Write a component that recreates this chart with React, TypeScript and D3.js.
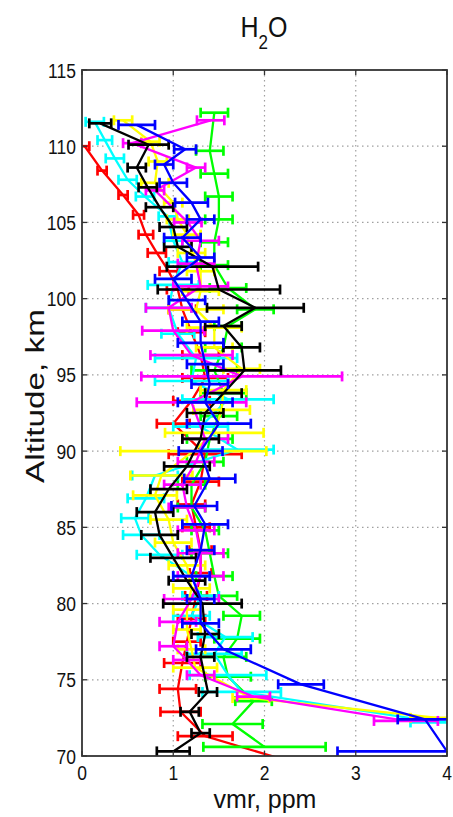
import React from 'react';
import * as d3 from 'd3';

const W = 453;
const H = 817;

const xTicks = [0, 1, 2, 3, 4];
const yTicks = [70, 75, 80, 85, 90, 95, 100, 105, 110, 115];

const redAlt = [69.6, 71.3, 72.9, 74.4, 76.1, 77.5, 79.0, 80.5, 82.0, 83.5, 85.0, 86.5, 88.0, 89.8, 91.8, 93.3, 94.8, 96.3, 97.8, 99.3, 100.6, 101.8, 103.0, 104.2, 105.5, 106.8, 108.4, 110.0];
const redVmr = [2.3, 1.35, 1.08, 1.05, 1.1, 1.15, 1.2, 1.25, 1.3, 1.3, 1.25, 1.2, 1.3, 1.35, 1.0, 1.2, 1.35, 1.3, 1.2, 1.1, 1.05, 0.95, 0.82, 0.7, 0.62, 0.45, 0.22, 0.03];
const redErr = [0.3, 0.3, 0.22, 0.2, 0.2, 0.15, 0.15, 0.12, 0.12, 0.12, 0.15, 0.15, 0.2, 0.4, 0.18, 0.2, 0.25, 0.2, 0.15, 0.15, 0.12, 0.1, 0.1, 0.08, 0.06, 0.05, 0.05, 0.05];

const blueAlt = [70.3, 72.4, 74.7, 77.0, 78.7, 80.3, 81.8, 83.5, 85.2, 86.4, 88.2, 90.0, 91.8, 93.2, 94.4, 95.7, 97.1, 98.5, 99.9, 101.3, 102.7, 104.0, 105.2, 106.3, 107.6, 108.8, 109.8, 111.4];
const blueVmr = [4.0, 3.76, 2.4, 1.55, 1.3, 1.3, 1.2, 1.3, 1.35, 1.23, 1.4, 1.3, 1.5, 1.35, 1.4, 1.35, 1.3, 1.3, 1.15, 1.0, 1.3, 1.1, 1.3, 1.2, 1.0, 0.9, 1.13, 0.6];
const blueErr = [1.2, 0.3, 0.25, 0.3, 0.2, 0.15, 0.2, 0.15, 0.25, 0.25, 0.28, 0.24, 0.35, 0.3, 0.2, 0.2, 0.25, 0.2, 0.2, 0.2, 0.15, 0.2, 0.15, 0.18, 0.15, 0.1, 0.12, 0.2];

const blackAlt = [70.3, 71.5, 72.9, 74.2, 76.5, 78.0, 80.0, 81.5, 83.0, 84.5, 86.0, 87.5, 89.0, 90.8, 92.5, 93.8, 95.3, 96.8, 98.2, 99.4, 100.6, 102.1, 103.4, 104.7, 106.0, 107.3, 108.6, 110.1, 111.5];
const blackVmr = [1.0, 1.3, 1.18, 1.38, 1.3, 1.35, 1.32, 1.15, 1.0, 0.85, 0.8, 0.95, 1.15, 1.3, 1.35, 1.55, 1.78, 1.75, 1.55, 1.9, 1.5, 1.43, 1.05, 1.0, 0.85, 0.72, 0.6, 0.73, 0.2];
const blackErr = [0.18, 0.1, 0.1, 0.1, 0.15, 0.15, 0.43, 0.2, 0.25, 0.2, 0.2, 0.2, 0.25, 0.2, 0.2, 0.2, 0.4, 0.2, 0.2, 0.53, 0.67, 0.5, 0.15, 0.15, 0.15, 0.1, 0.1, 0.22, 0.12];

const greenAlt = [70.6, 72.1, 73.6, 75.2, 76.5, 77.7, 79.2, 80.5, 81.8, 83.3, 84.8, 86.3, 87.8, 89.3, 90.8, 92.3, 93.8, 95.3, 96.8, 98.2, 99.3, 100.7, 102.2, 103.7, 105.2, 106.7, 108.2, 109.7, 112.2];
const greenVmr = [2.0, 1.65, 1.88, 1.6, 1.55, 1.7, 1.75, 1.5, 1.45, 1.4, 1.35, 1.2, 1.2, 1.35, 1.4, 1.5, 1.55, 1.45, 1.55, 1.6, 1.9, 1.6, 1.45, 1.45, 1.5, 1.5, 1.45, 1.4, 1.45];
const greenErr = [0.67, 0.33, 0.2, 0.25, 0.25, 0.25, 0.2, 0.2, 0.2, 0.2, 0.15, 0.15, 0.15, 0.2, 0.25, 0.2, 0.25, 0.25, 0.2, 0.15, 0.2, 0.2, 0.15, 0.15, 0.15, 0.15, 0.15, 0.15, 0.15];

const magentaAlt = [72.3, 73.9, 75.3, 76.3, 77.2, 78.8, 80.3, 81.8, 83.3, 84.8, 86.3, 87.8, 89.3, 90.8, 93.2, 94.9, 96.3, 97.9, 99.4, 100.8, 102.3, 103.8, 105.0, 107.1, 108.6, 110.2, 111.7];
const magentaVmr = [3.55, 1.88, 1.3, 1.15, 1.0, 1.05, 1.2, 1.3, 1.3, 1.25, 1.15, 1.1, 1.25, 1.35, 1.2, 1.75, 1.2, 1.0, 0.95, 1.3, 1.25, 1.3, 1.16, 0.8, 1.25, 0.55, 1.41];
const magentaErr = [0.35, 0.18, 0.15, 0.15, 0.15, 0.2, 0.3, 0.25, 0.25, 0.2, 0.2, 0.2, 0.2, 0.25, 0.6, 1.1, 0.45, 0.34, 0.25, 0.3, 0.2, 0.2, 0.15, 0.1, 0.1, 0.1, 0.15];

const cyanAlt = [72.2, 74.2, 75.3, 76.7, 77.8, 79.2, 80.5, 81.8, 83.2, 84.5, 85.6, 86.9, 88.4, 90.1, 91.6, 93.4, 94.6, 96.1, 97.7, 99.4, 100.9, 102.4, 103.8, 105.4, 106.7, 107.8, 109.2, 110.4, 111.6];
const cyanVmr = [3.9, 1.75, 1.6, 1.45, 1.57, 1.2, 1.3, 1.2, 0.85, 0.65, 0.58, 0.7, 0.8, 1.7, 1.3, 1.6, 1.2, 1.25, 1.05, 0.95, 1.0, 1.1, 1.0, 0.94, 0.69, 0.5, 0.36, 0.25, 0.14];
const cyanErr = [0.3, 0.43, 0.42, 0.3, 0.3, 0.2, 0.2, 0.2, 0.25, 0.2, 0.15, 0.2, 0.25, 0.4, 0.3, 0.5, 0.4, 0.45, 0.18, 0.25, 0.28, 0.15, 0.1, 0.1, 0.1, 0.1, 0.1, 0.08, 0.1];

const yellowAlt = [72.5, 73.8, 75.8, 77.0, 78.3, 79.6, 81.0, 82.5, 84.0, 85.5, 87.1, 88.4, 90.0, 91.2, 92.7, 94.0, 95.4, 96.8, 98.1, 99.3, 100.5, 101.8, 103.0, 104.2, 105.2, 106.3, 107.6, 109.0, 110.3, 111.7];
const yellowVmr = [3.9, 1.85, 1.24, 1.2, 1.15, 1.15, 1.2, 1.15, 1.0, 0.95, 0.8, 0.87, 1.22, 1.45, 1.53, 1.55, 1.75, 1.45, 1.45, 1.25, 1.3, 1.3, 1.2, 1.15, 1.05, 1.0, 0.8, 0.83, 0.75, 0.45];
const yellowErr = [0.3, 0.2, 0.24, 0.15, 0.15, 0.15, 0.2, 0.2, 0.2, 0.2, 0.24, 0.34, 0.8, 0.54, 0.31, 0.25, 0.2, 0.2, 0.3, 0.3, 0.2, 0.15, 0.15, 0.15, 0.12, 0.1, 0.15, 0.1, 0.1, 0.1];

const series = [
  { name: 'red', color: '#ff0000', alt: redAlt, vmr: redVmr, err: redErr },
  { name: 'green', color: '#00ff00', alt: greenAlt, vmr: greenVmr, err: greenErr },
  { name: 'cyan', color: '#00ffff', alt: cyanAlt, vmr: cyanVmr, err: cyanErr },
  { name: 'yellow', color: '#ffff00', alt: yellowAlt, vmr: yellowVmr, err: yellowErr },
  { name: 'magenta', color: '#ff00ff', alt: magentaAlt, vmr: magentaVmr, err: magentaErr },
  { name: 'black', color: '#000000', alt: blackAlt, vmr: blackVmr, err: blackErr },
  { name: 'blue', color: '#0000ff', alt: blueAlt, vmr: blueVmr, err: blueErr },
];

const FONT = '"Liberation Sans", Arial, Helvetica, sans-serif';

export default function App() {
  const x0 = 82, x1 = 447, y0 = 756, y1 = 70;
  const x = d3.scaleLinear().domain([0, 4]).range([x0, x1]);
  const y = d3.scaleLinear().domain([70, 115]).range([y0, y1]);
  const line = d3.line<[number, number]>().x(d => x(d[0])).y(d => y(d[1]));
  const cap = 5;
  const axisColor = '#333';
  const tickLen = 5;

  return (
    <svg width={W} height={H} style={{ position: 'absolute', left: 0, top: 0, background: '#fff' }}>
      <defs>
        <clipPath id="plotArea">
          <rect x={x0} y={y1} width={x1 - x0} height={y0 - y1} />
        </clipPath>
      </defs>
      <rect x={0} y={0} width={W} height={H} fill="#fff" />
      {/* grid */}
      <g stroke="#a0a0a0" strokeWidth={1.2} strokeDasharray="1.5,3.5">
        {xTicks.slice(1, -1).map(t => (
          <line key={'gx' + t} x1={x(t)} x2={x(t)} y1={y1} y2={y0} />
        ))}
        {yTicks.slice(1, -1).map(t => (
          <line key={'gy' + t} x1={x0} x2={x1} y1={y(t)} y2={y(t)} />
        ))}
      </g>
      {/* data */}
      <g clipPath="url(#plotArea)">
        {series.map(s => {
          const pts: [number, number][] = s.alt.map((a, i) => [s.vmr[i], a]);
          return (
            <g key={s.name} stroke={s.color} fill="none">
              <path d={line(pts) || ''} strokeWidth={2.3} strokeLinejoin="round" />
              {s.alt.map((a, i) => {
                const yy = y(a);
                const xl = x(s.vmr[i] - s.err[i]);
                const xr = x(s.vmr[i] + s.err[i]);
                return (
                  <g key={i} strokeWidth={2.7}>
                    <line x1={xl} x2={xr} y1={yy} y2={yy} />
                    <line x1={xl} x2={xl} y1={yy - cap} y2={yy + cap} />
                    <line x1={xr} x2={xr} y1={yy - cap} y2={yy + cap} />
                  </g>
                );
              })}
            </g>
          );
        })}
      </g>
      {/* axes box */}
      <rect x={x0} y={y1} width={x1 - x0} height={y0 - y1} fill="none" stroke={axisColor} strokeWidth={1.8} />
      <g stroke={axisColor} strokeWidth={1.3}>
        {xTicks.map(t => (
          <g key={'tx' + t}>
            <line x1={x(t)} x2={x(t)} y1={y0} y2={y0 - tickLen} />
            <line x1={x(t)} x2={x(t)} y1={y1} y2={y1 + tickLen} />
          </g>
        ))}
        {yTicks.map(t => (
          <g key={'ty' + t}>
            <line x1={x0} x2={x0 + tickLen} y1={y(t)} y2={y(t)} />
            <line x1={x1} x2={x1 - tickLen} y1={y(t)} y2={y(t)} />
          </g>
        ))}
      </g>
      {/* tick labels */}
      <g fontFamily={FONT} fontSize={17.5} fill="#111">
        {yTicks.map(t => (
          <text key={'ly' + t} transform={`translate(${x0 - 6},${y(t) + 7.5}) scale(1,1.2)`} textAnchor="end">
            {t}
          </text>
        ))}
        {xTicks.map(t => (
          <text key={'lx' + t} transform={`translate(${x(t)},${y0 + 24}) scale(1,1.2)`} textAnchor="middle">
            {t}
          </text>
        ))}
      </g>
      {/* title */}
      <text transform="translate(264,37) scale(1,1.15)" fontFamily={FONT} fontSize={25} textAnchor="middle" fill="#111">
        H<tspan fontSize={17} dy={10}>2</tspan><tspan dy={-10}>O</tspan>
      </text>
      {/* axis labels */}
      <text transform="translate(265,808)" fontFamily={FONT} fontSize={25} textAnchor="middle" fill="#111">
        vmr, ppm
      </text>
      <text transform="translate(44,396) rotate(-90) scale(1.28,1)" fontFamily={FONT} fontSize={26} textAnchor="middle" fill="#111">
        Altitude, km
      </text>
    </svg>
  );
}
